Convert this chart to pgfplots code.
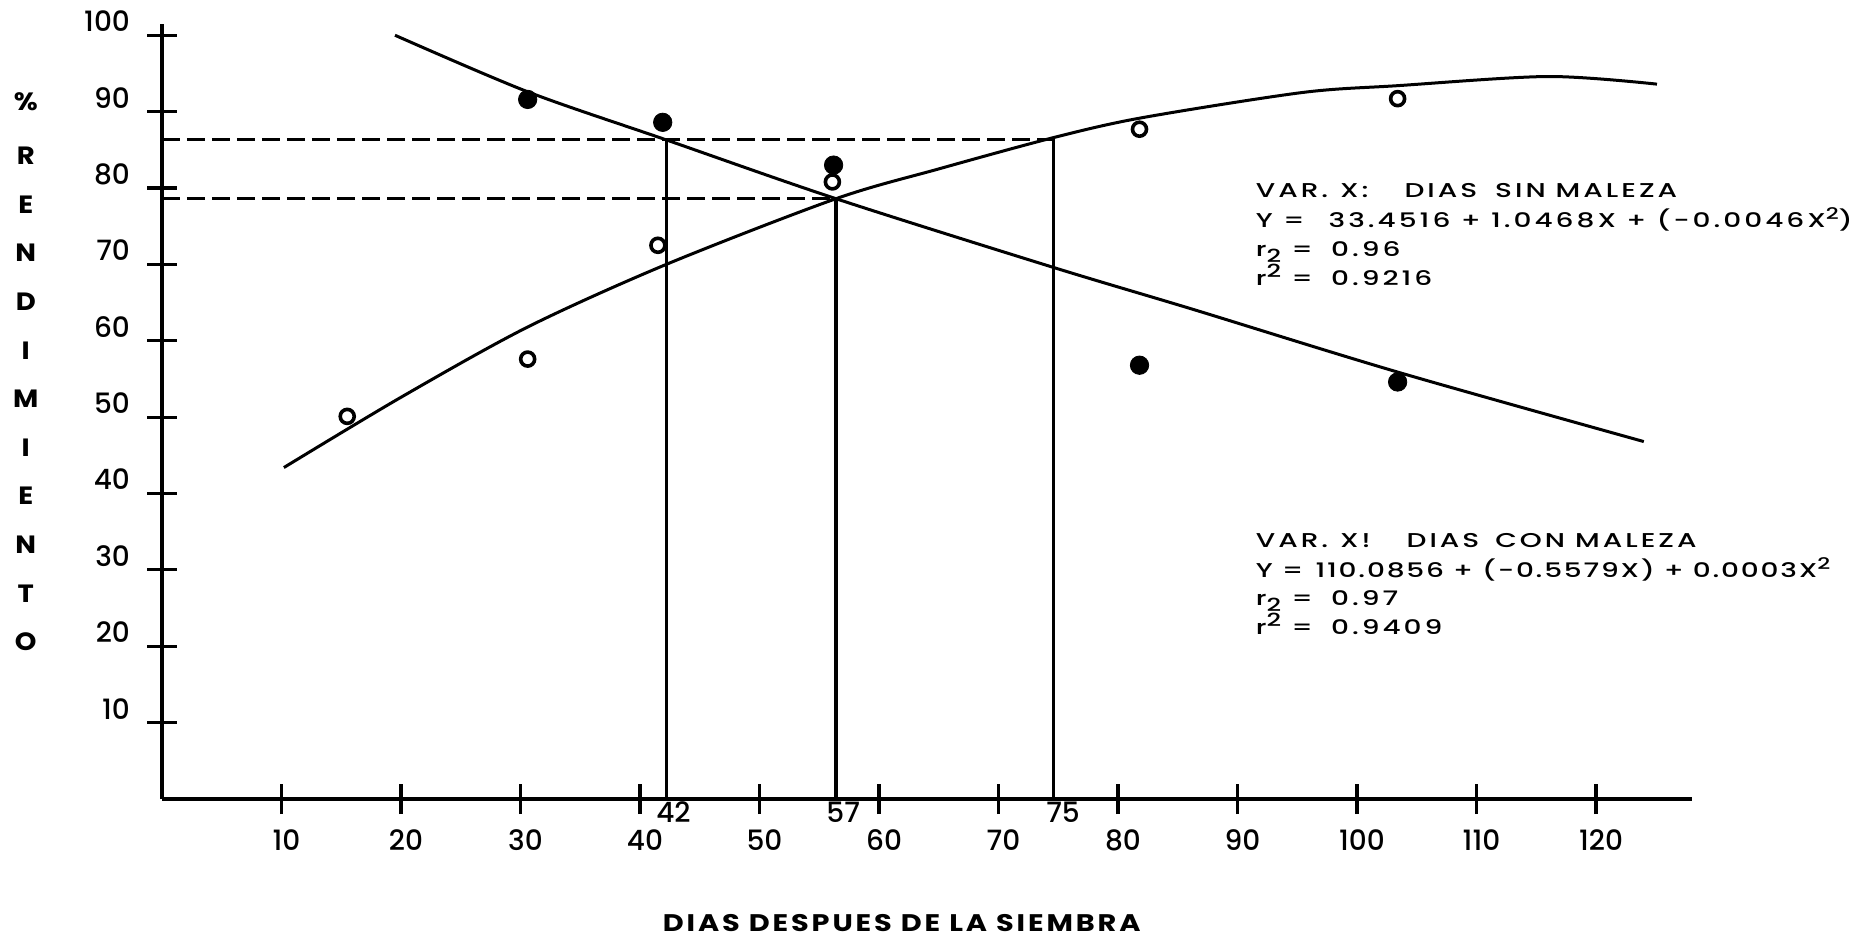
\documentclass[border=0pt]{standalone}
\usepackage{fontspec}
\setmainfont{Poppins}
\newfontfamily\annfont{Poppins Medium}[FakeStretch=1.4, LetterSpace=15]
\newfontfamily\annfontb{Poppins Medium}[FakeStretch=1.4, LetterSpace=9]
\newfontfamily\tickfont{Poppins Medium}
\newfontfamily\lblfont{Poppins}[FakeStretch=1.2, LetterSpace=12]
\newfontfamily\ylblfont{Poppins}[FakeStretch=1.1]
\usepackage{pgfplots}
\pgfplotsset{compat=1.18}
\begin{document}
\begin{tikzpicture}
\path[use as bounding box] (-81pt,-70pt) rectangle (853pt,399.5pt);
\begin{axis}[
  at={(0,0)}, anchor=south west,
  scale only axis, width=764.8pt, height=387.6pt,
  xmin=0, xmax=128, ymin=0, ymax=101.5,
  axis lines=left, axis line style={-, line width=2pt},
  xtick={10,20,...,120}, ytick={10,20,...,100},
  tick align=center, major tick length=15pt,
  tick style={line width=1.6pt, black},
  ticklabel style={font=\tickfont\fontsize{14}{14}\selectfont},
  /pgf/number format/assume math mode=true,
  yticklabel style={yshift=7pt, xshift=-5pt},
  xticklabel style={yshift=-4.5pt, xshift=2.5pt},
  clip=false,
]
% decreasing curve (con maleza)
\addplot[no marks, line width=1.5pt, smooth] coordinates {
 (19.5,100.0) (30.6,92.6) (42.2,86.3) (56.4,78.6) (74.6,69.6) (86.3,64.1) (103.4,55.9) (124,46.8)};
% increasing curve (sin maleza)
\addplot[no marks, line width=1.5pt, smooth] coordinates {
 (10.2,43.4) (20,52.6) (30.6,61.8) (42.2,70.0) (56.4,78.6) (65,82.5) (74.6,86.6) (82,89.2) (95.4,92.5) (103.4,93.4) (116,94.6) (125.1,93.6)};
% dashed guides
\addplot[no marks, line width=1.6pt, dash pattern=on 9pt off 3.5pt] coordinates {(0,86.3) (74.6,86.3)};
\addplot[no marks, line width=1.6pt, dash pattern=on 9pt off 3.5pt] coordinates {(0,78.6) (56.4,78.6)};
% vertical guides
\addplot[no marks, line width=1.6pt] coordinates {(42.2,0) (42.2,86.3)};
\addplot[no marks, line width=1.6pt] coordinates {(56.4,0) (56.4,78.6)};
\addplot[no marks, line width=1.6pt] coordinates {(74.6,0) (74.6,86.6)};
% filled points
\addplot[only marks, mark=*, mark size=4.6pt] coordinates {
 (30.6,91.6) (41.9,88.6) (56.2,83.0) (81.8,56.8) (103.4,54.6)};
% open points
\addplot[only marks, mark=o, mark size=3.5pt, mark options={line width=1.8pt}] coordinates {
 (15.5,50.1) (30.6,57.6) (41.5,72.5) (56.1,80.8) (81.8,87.7) (103.4,91.7)};
% special x labels
\node[font=\tickfont\fontsize{14}{14}\selectfont] at (axis cs:42.8,-1.7) {42};
\node[font=\tickfont\fontsize{14}{14}\selectfont] at (axis cs:57.0,-1.7) {57};
\node[font=\tickfont\fontsize{14}{14}\selectfont] at (axis cs:75.4,-1.7) {75};
% annotations
\begin{scope}[every node/.style={anchor=base west, inner sep=0pt, font=\annfont\fontsize{10}{10}\selectfont}]
\node at (axis cs:91.5,78.8) {VAR.\hspace{6pt}X:\hspace{18pt}DIAS\hspace{9pt}SIN\hspace{5pt}MALEZA};
\node at (axis cs:91.5,74.8) {Y =\hspace{12pt}33.4516 + 1.0468X + (-0.0046X\raisebox{4pt}{\fontsize{8}{8}\selectfont 2})};
\node at (axis cs:91.5,71.0) {r\raisebox{-3pt}{\fontsize{9}{9}\selectfont 2} =\hspace{9pt}0.96};
\node at (axis cs:91.5,67.2) {r\raisebox{4pt}{\fontsize{9}{9}\selectfont 2} =\hspace{9pt}0.9216};
\node at (axis cs:91.5,32.95) {VAR.\hspace{6pt}X!\hspace{18pt}DIAS\hspace{8pt}CON\hspace{5pt}MALEZA};
\node[font=\annfontb\fontsize{10}{10}\selectfont] at (axis cs:91.5,29.0) {Y =\hspace{6pt}110.0856 + (-0.5579X) + 0.0003X\raisebox{4pt}{\fontsize{8}{8}\selectfont 2}};
\node at (axis cs:91.5,25.3) {r\raisebox{-3pt}{\fontsize{9}{9}\selectfont 2} =\hspace{9pt}0.97};
\node at (axis cs:91.5,21.5) {r\raisebox{4pt}{\fontsize{9}{9}\selectfont 2} =\hspace{9pt}0.9409};
\end{scope}
% axis titles
\node[font=\ylblfont\bfseries\fontsize{12.5}{12.5}\selectfont] at (axis cs:-11.4,91.3) {\%};
\node[font=\ylblfont\bfseries\fontsize{12.5}{24.3}\selectfont, align=center, anchor=north, inner sep=0pt] at (axis cs:-11.4,85.4)
 {R\\E\\N\\D\\I\\M\\I\\E\\N\\T\\O};
\node[font=\lblfont\bfseries\fontsize{12}{12}\selectfont] at (axis cs:61.9,-16.3) {DIAS DESPUES DE LA SIEMBRA};
\end{axis}
\end{tikzpicture}
\end{document}
